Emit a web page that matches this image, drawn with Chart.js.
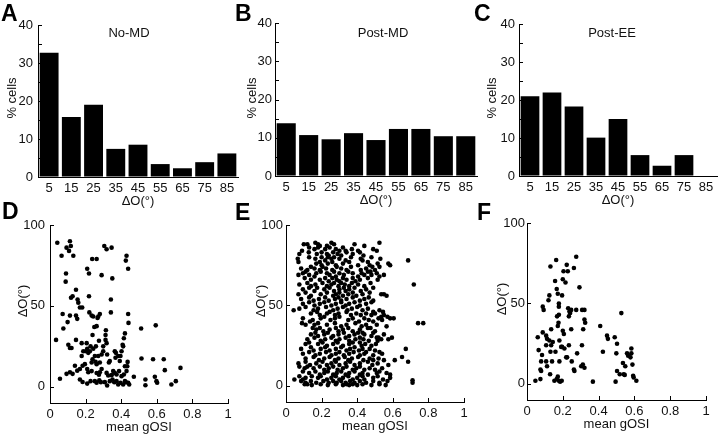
<!DOCTYPE html>
<html><head><meta charset="utf-8">
<script src="https://cdn.jsdelivr.net/npm/chart.js@4.4.1/dist/chart.umd.min.js"></script>
<style>
html,body{margin:0;padding:0;background:#fff;}
#wrap{position:relative;width:720px;height:436px;overflow:hidden;background:#fff;}
canvas{position:absolute;}
.lt{position:absolute;font:bold 23px "Liberation Sans",Arial,sans-serif;line-height:23px;color:#000;}
</style></head><body>
<div id="wrap">
<canvas id="cA" width="240" height="215" style="left:0;top:0"></canvas>
<canvas id="cB" width="240" height="215" style="left:240px;top:0"></canvas>
<canvas id="cC" width="240" height="215" style="left:480px;top:0"></canvas>
<canvas id="cD" width="240" height="231" style="left:0;top:205px"></canvas>
<canvas id="cE" width="240" height="231" style="left:240px;top:205px"></canvas>
<canvas id="cF" width="240" height="231" style="left:480px;top:205px"></canvas>
<div class="lt" style="left:1px;top:2px">A</div>
<div class="lt" style="left:235px;top:2px">B</div>
<div class="lt" style="left:474px;top:2px">C</div>
<div class="lt" style="left:2px;top:200px">D</div>
<div class="lt" style="left:235px;top:201px">E</div>
<div class="lt" style="left:477px;top:201px">F</div>
</div>
<script>
// ---------- data ----------
const binLabels = ['5','15','25','35','45','55','65','75','85'];
const histYTicks = [0,10,20,30,40];
const histYMinor = [5,15,25,35];
const noMDPct   = [32.7, 15.8, 19.0, 7.4, 8.5, 3.4, 2.3, 3.9, 6.2];
const postMDPct = [13.8, 10.7, 9.6, 11.2, 9.4, 12.3, 12.3, 10.4, 10.4];
const postEEPct = [21.0, 22.0, 18.3, 10.1, 15.0, 5.5, 2.7, 5.5, 0];

const gosiTicks = [0,0.2,0.4,0.6,0.8,1];
const gosiTickLabels = ['0','0.2','0.4','0.6','0.8','1'];
const dOTicks = [0,50,100];

const noMDPoints = [[0.041,89],[0.065,81],[0.093,86],[0.107,84],[0.112,90],[0.117,87],[0.131,81],[0.090,70],[0.088,65],[0.146,60],[0.118,55],[0.127,56],[0.155,54],[0.159,52],[0.168,49],[0.181,49],[0.071,45],[0.112,44],[0.146,44],[0.153,42],[0.099,40],[0.075,36],[0.034,29],[0.103,26],[0.112,24],[0.121,24],[0.146,29],[0.056,5],[0.093,8],[0.112,9],[0.127,8],[0.140,13],[0.153,10],[0.168,11],[0.183,13],[0.178,19],[0.187,22],[0.202,22],[0.215,21],[0.178,27],[0.206,27],[0.168,4.5],[0.183,3],[0.209,2],[0.215,9],[0.228,3.5],[0.196,14],[0.209,11],
[0.209,73],[0.219,70],[0.237,79],[0.262,79],[0.290,69],[0.305,87],[0.318,85],[0.346,86],[0.350,67],[0.342,54],[0.430,81],[0.426,78],[0.439,73],[0.219,56],[0.221,46],[0.234,44],[0.243,43.5],[0.271,43.5],[0.280,45],[0.342,46],[0.439,45],[0.249,37],[0.262,37.5],[0.267,42.5],[0.239,32],[0.314,35],[0.421,33],[0.441,39.5],[0.512,36],[0.594,38],
[0.312,32],[0.312,29],[0.318,27],[0.299,25],[0.275,28.5],[0.258,25],[0.243,23.5],[0.228,25],[0.224,22],[0.209,23.5],[0.271,19],[0.252,19],[0.290,20],[0.299,22],[0.321,20],[0.364,22],[0.370,21],[0.408,26],[0.411,25],[0.415,30],[0.402,22],[0.396,19],[0.392,16],[0.383,19],[0.368,18],[0.336,16],[0.331,15],[0.256,15.5],[0.262,14],[0.234,15],[0.239,17],[0.280,15],[0.290,11],[0.280,9],[0.275,7.5],[0.262,8.5],[0.234,9.7],[0.318,8.6],[0.327,7],[0.346,7.2],[0.355,9.7],[0.364,8.6],[0.374,7.6],[0.388,9.7],[0.402,6.6],[0.415,7.6],[0.430,9.7],[0.434,12.7],[0.421,12.7],[0.436,15.4],[0.471,6.2],[0.252,3.5],[0.262,2.5],[0.277,4.1],[0.286,2.9],[0.308,2.9],[0.321,0.8],[0.336,3.5],[0.351,4.5],[0.361,2.9],[0.374,3.5],[0.383,1.4],[0.396,2.5],[0.411,1.4],[0.426,2.9],[0.439,2.5],[0.445,1.4],[0.421,3.5],
[0.514,17.5],[0.579,17],[0.639,17],[0.645,10.3],[0.589,6.2],[0.598,3.5],[0.602,2.5],[0.536,4.5],[0.536,1],[0.682,1.4],[0.707,3.5],[0.733,11.7]];

const postMDPoints = [
[0.10,88],[0.12,88],[0.165,89],[0.18,88],[0.19,87],[0.255,89],[0.27,88],[0.385,88],[0.44,87],[0.525,89],
[0.09,84],[0.13,86],[0.16,85],[0.18,86],[0.22,85],[0.23,87],[0.245,86],[0.28,85],[0.30,84],[0.32,86],[0.335,84],[0.37,85],[0.405,84],[0.49,85],[0.51,84],
[0.075,82],[0.128,83],[0.173,82],[0.20,83],[0.23,82],[0.24,81],[0.265,83],[0.29,82],[0.31,81],[0.34,83],[0.375,82],[0.415,83],[0.435,81],
[0.066,79],[0.13,80],[0.165,79],[0.20,80],[0.22,78],[0.235,80],[0.255,79],[0.27,80],[0.30,79],[0.335,78],[0.365,80],[0.42,79],[0.43,78],[0.48,80],[0.53,79],[0.686,78],
[0.07,77],[0.17,76],[0.19,77],[0.20,75],[0.235,76],[0.26,77],[0.28,75],[0.32,76],[0.355,77],[0.405,75],[0.46,77],[0.47,75],[0.515,76],[0.525,74],[0.575,76],[0.585,75],
[0.085,73],[0.12,72],[0.14,74],[0.16,73],[0.19,72],[0.205,74],[0.225,73],[0.26,72],[0.285,74],[0.31,73],[0.34,72],[0.365,74],[0.42,72],[0.45,73],[0.475,71],[0.485,74],[0.50,72],
[0.07,69],[0.095,70],[0.11,71],[0.13,69],[0.17,70],[0.195,71],[0.23,70],[0.245,69],[0.27,71],[0.28,68],[0.30,70],[0.325,69],[0.35,71],[0.375,70],[0.405,68],[0.425,70],[0.44,69],[0.46,71],[0.48,69],[0.51,70],[0.525,68],[0.55,69],
[0.105,67],[0.14,66],[0.16,68],[0.19,66],[0.22,67],[0.24,65],[0.26,67],[0.285,66],[0.30,65],[0.32,67],[0.34,66],[0.375,67],[0.39,65],[0.415,66],[0.46,67],[0.515,66],
[0.075,63],[0.12,64],[0.14,62],[0.165,63],[0.205,64],[0.23,62],[0.255,63],[0.27,64],[0.295,62],[0.31,64],[0.33,63],[0.355,62],[0.37,64],[0.405,63],[0.44,62],[0.475,64],[0.718,63],
[0.095,60],[0.13,61],[0.16,59],[0.175,61],[0.215,60],[0.245,61],[0.27,59],[0.30,60],[0.325,61],[0.335,59],[0.355,60],[0.385,61],[0.42,59],[0.45,60],[0.49,61],
[0.07,57],[0.11,58],[0.14,56],[0.195,57],[0.23,58],[0.265,56],[0.28,57],[0.30,58],[0.32,56],[0.35,57],[0.375,58],[0.395,56],[0.43,57],[0.47,58],[0.535,57],[0.55,57],[0.565,56],
[0.085,54],[0.13,55],[0.155,53],[0.185,54],[0.22,55],[0.24,53],[0.275,54],[0.295,55],[0.31,53],[0.34,54],[0.375,55],[0.415,53],[0.44,54],[0.465,55],[0.49,53],
[0.095,51],[0.13,52],[0.16,50],[0.19,51],[0.215,52],[0.255,50],[0.28,51],[0.31,52],[0.335,50],[0.355,51],[0.385,52],[0.415,50],[0.45,51],[0.48,52],
[0.075,48],[0.11,49],[0.155,47],[0.18,48],[0.225,49],[0.265,47],[0.29,48],[0.32,49],[0.345,47],[0.37,48],[0.40,49],[0.43,47],[0.46,48],[0.49,46],[0.525,47],[0.545,46],
[0.043,47],[0.14,45],[0.175,46],[0.19,44],[0.23,45],[0.245,46],[0.275,44],[0.295,45],[0.34,46],[0.365,44],[0.395,45],[0.42,44],[0.45,45],[0.48,44],[0.50,45],[0.535,43],[0.55,44],
[0.095,42],[0.15,41],[0.195,42],[0.215,43],[0.25,41],[0.275,42],[0.30,43],[0.35,41],[0.375,42],[0.41,40],[0.44,42],[0.465,41],[0.49,40],[0.52,42],[0.54,41],[0.57,43],[0.585,42],[0.605,42],
[0.09,39],[0.11,38],[0.135,40],[0.16,38],[0.18,39],[0.23,38],[0.275,39],[0.31,37],[0.34,38],[0.39,39],[0.425,37],[0.45,38],[0.475,36],[0.51,38],[0.565,37],[0.742,39],[0.771,39],
[0.15,36],[0.17,35],[0.19,36],[0.21,34],[0.245,35],[0.28,36],[0.295,34],[0.32,35],[0.35,36],[0.375,34],[0.415,35],[0.43,33],[0.46,36],[0.50,34],
[0.14,32],[0.165,33],[0.18,31],[0.215,32],[0.235,33],[0.265,31],[0.295,32],[0.325,33],[0.355,31],[0.385,32],[0.405,33],[0.415,30],[0.44,32],[0.48,31],[0.49,33],[0.52,30],[0.55,32],
[0.12,29],[0.16,30],[0.195,28],[0.22,29],[0.255,30],[0.28,28],[0.30,29],[0.335,30],[0.355,28],[0.39,29],[0.415,27],[0.435,29],[0.465,28],[0.51,30],[0.515,28],[0.535,29],[0.575,29],[0.595,30],
[0.11,26],[0.13,27],[0.18,26],[0.205,27],[0.23,25],[0.265,26],[0.29,27],[0.32,25],[0.355,26],[0.375,27],[0.425,25],[0.445,26],[0.48,25],[0.505,26],
[0.085,23],[0.14,24],[0.155,22],[0.195,23],[0.22,24],[0.245,22],[0.28,23],[0.31,24],[0.34,22],[0.36,23],[0.385,24],[0.41,22],[0.43,23],[0.45,21],[0.47,23],[0.50,22],[0.525,21],[0.673,23],
[0.095,20],[0.13,21],[0.165,19],[0.19,20],[0.225,21],[0.255,19],[0.28,20],[0.30,21],[0.325,19],[0.355,20],[0.38,21],[0.415,19],[0.44,20],[0.49,19],[0.54,20],
[0.11,17],[0.155,18],[0.185,16],[0.215,17],[0.245,18],[0.275,16],[0.295,17],[0.33,18],[0.35,16],[0.37,17],[0.405,18],[0.435,16],[0.47,17],[0.49,16],[0.52,17],[0.55,16],[0.652,18],[0.611,16],
[0.07,14],[0.11,15],[0.135,13],[0.17,14],[0.205,15],[0.23,13],[0.255,14],[0.28,15],[0.30,13],[0.335,14],[0.36,15],[0.385,13],[0.415,14],[0.46,15],[0.485,13],[0.515,14],[0.575,13],[0.686,15],
[0.075,12],[0.105,11],[0.12,12],[0.155,11],[0.19,12],[0.215,10],[0.24,11],[0.265,12],[0.29,10],[0.32,11],[0.34,12],[0.375,10],[0.395,11],[0.415,12],[0.44,10],[0.47,11],[0.50,10],[0.54,11],
[0.095,9],[0.13,8],[0.165,9],[0.19,7],[0.215,8],[0.235,9],[0.265,7],[0.285,8],[0.31,9],[0.335,7],[0.355,8],[0.385,9],[0.415,7],[0.43,8],[0.46,7],[0.51,8],[0.525,9],[0.565,8],[0.585,7],
[0.075,6],[0.11,5],[0.145,6],[0.18,5],[0.195,6],[0.23,4],[0.255,5],[0.28,6],[0.30,4],[0.32,5],[0.35,6],[0.375,4],[0.40,5],[0.43,6],[0.44,4],[0.49,5],[0.515,6],[0.545,4],[0.585,5],
[0.047,4],[0.085,3],[0.095,4],[0.11,2],[0.14,3],[0.17,2],[0.21,3],[0.24,2],[0.265,3],[0.285,2],[0.31,3],[0.335,2],[0.36,3],[0.385,2],[0.415,3],[0.45,2],[0.49,3],[0.525,2],[0.57,3],[0.711,3.5],
[0.105,1],[0.12,1],[0.145,0.5],[0.195,1],[0.235,0.5],[0.28,1],[0.32,0.5],[0.34,1],[0.355,0.5],[0.375,1],[0.40,0.5],[0.43,1],[0.48,0.5],[0.525,1],[0.56,0.5],[0.711,2]];

const postEEPoints = [[0.047,2],[0.06,29],[0.065,21],[0.079,14],[0.084,18],[0.075,9],[0.079,8],[0.075,3],[0.088,32],[0.088,48],[0.093,46],[0.107,30],[0.107,24],[0.107,14],[0.112,11],[0.112,28],[0.120,52],[0.125,55],[0.125,27],[0.131,20],[0.129,6],[0.135,34],[0.135,24],[0.131,73],[0.144,26],[0.140,14],[0.153,2],[0.157,64],[0.163,77],[0.166,59],[0.172,56],[0.178,50],[0.178,48],[0.168,42],[0.178,43],[0.172,36],[0.176,38],[0.181,27],[0.159,20],[0.166,3],[0.178,2],[0.185,1.4],[0.194,2],[0.172,4.5],[0.181,14],[0.191,23],[0.196,23],[0.200,33],[0.196,55],[0.204,70],[0.200,65],[0.215,63],[0.222,74],[0.228,70],[0.206,31],[0.209,22],[0.219,16.5],[0.224,16.5],[0.234,24],[0.230,47],[0.237,45],[0.247,46],[0.241,44],[0.234,42],[0.247,34],[0.250,14],[0.262,9],[0.265,8],[0.262,72],[0.275,79],[0.280,19],[0.275,46],[0.293,60],[0.308,46],[0.307,24],[0.312,12],[0.303,11],[0.314,34],[0.321,46],[0.321,40],[0.325,38],[0.321,10],[0.368,1.4],[0.409,36],[0.447,30],[0.452,28],[0.424,20],[0.490,29],[0.503,25],[0.499,19],[0.495,1.4],[0.503,8],[0.518,6],[0.527,44],[0.536,13],[0.540,6],[0.549,11],[0.546,5.6],[0.559,19],[0.565,17.5],[0.578,16.5],[0.583,19],[0.589,12],[0.593,5],[0.596,4],[0.583,22],[0.611,2]];

// ---------- drawing ----------
const fontFam = '"Liberation Sans", Arial, sans-serif';
Chart.defaults.font.family = fontFam;
Chart.defaults.font.size = 13;
Chart.defaults.color = '#111';

const decor = {
  id: 'decor',
  afterDraw(chart, args, o) {
    const {ctx, chartArea: a, scales: {x, y}} = chart;
    ctx.save();
    ctx.strokeStyle = '#000'; ctx.lineWidth = 1;
    ctx.beginPath();
    (o.yMarks || []).forEach(v => { const p = Math.round(y.getPixelForValue(v)) + 0.5; ctx.moveTo(a.left, p); ctx.lineTo(a.left + 4, p); });
    (o.xMarks || []).forEach(v => { const p = Math.round(x.getPixelForValue(v)) + 0.5; ctx.moveTo(p, a.bottom); ctx.lineTo(p, a.bottom - 4); });
    ctx.stroke();
    ctx.fillStyle = '#111';
    ctx.font = '13px ' + fontFam;
    ctx.textAlign = 'center'; ctx.textBaseline = 'middle';
    if (o.title) ctx.fillText(o.title, o.titleX, o.titleY);
    ctx.fillText(o.xTitle, (a.left + a.right) / 2, a.bottom + o.xTitleDy);
    ctx.translate(o.yTitleX, o.yTitleY); ctx.rotate(-Math.PI / 2);
    ctx.fillText(o.yTitle, 0, 0);
    ctx.restore();
  }
};

const axisCommon = {
  grid: { display: true, drawOnChartArea: false, drawTicks: false },
  border: { display: true, color: '#000', width: 1 }
};

function hist(id, values, L) {
  new Chart(document.getElementById(id), {
    type: 'bar',
    data: { labels: binLabels, datasets: [{ data: values, backgroundColor: '#000', borderWidth: 0, barPercentage: 0.85, categoryPercentage: 1 }] },
    options: {
      responsive: false, animation: false, events: [],
      layout: { padding: { left: 0, top: L.top, right: L.right, bottom: L.bottom } },
      plugins: { legend: { display: false }, tooltip: { enabled: false },
        decor: { yMarks: histYTicks.concat(histYMinor), title: L.title, titleX: L.titleX, titleY: 33, xTitle: 'ΔO(°)', xTitleDy: 24, yTitle: '% cells', yTitleX: 12, yTitleY: 98 } },
      scales: {
        x: { ...axisCommon, ticks: { padding: 4, autoSkip: false, maxRotation: 0 }, afterFit: s => { s.height = 20; } },
        y: { ...axisCommon, min: 0, max: 40,
             afterBuildTicks: s => { s.ticks = histYTicks.map(v => ({ value: v })); },
             ticks: { padding: L.yPad }, afterFit: s => { s.width = L.yW; } }
      }
    },
    plugins: [decor]
  });
}

function scatter(id, pts, L) {
  new Chart(document.getElementById(id), {
    type: 'scatter',
    data: { datasets: [{ data: pts.map(p => ({ x: p[0], y: p[1] })), pointRadius: 2.3, pointHoverRadius: 2.3, pointBackgroundColor: '#000', pointBorderWidth: 0 }] },
    options: {
      responsive: false, animation: false, events: [],
      layout: { padding: { left: 0, top: L.top, right: L.right, bottom: L.bottom } },
      plugins: { legend: { display: false }, tooltip: { enabled: false },
        decor: { yMarks: dOTicks, xMarks: gosiTicks, xTitle: 'mean gOSI', xTitleDy: 24, yTitle: 'ΔO(°)', yTitleX: L.yTitleX, yTitleY: L.yTitleY } },
      scales: {
        x: { ...axisCommon, type: 'linear', min: 0, max: 1,
             afterBuildTicks: s => { s.ticks = gosiTicks.map(v => ({ value: v })); },
             ticks: { padding: 4, autoSkip: false, maxRotation: 0, callback: (v, i) => gosiTickLabels[i] },
             afterFit: s => { s.height = 20; } },
        y: { ...axisCommon, min: -10, max: 100,
             afterBuildTicks: s => { s.ticks = dOTicks.map(v => ({ value: v })); },
             ticks: { padding: L.yPad, callback: v => String(v) },
             afterFit: s => { s.width = L.yW; } }
      }
    },
    plugins: [decor]
  });
}

hist('cA', noMDPct,   { top: 25, right: 2, bottom: 18, yW: 38, yPad: 5, title: 'No-MD',   titleX: 129 });
hist('cB', postMDPct, { top: 23, right: 3, bottom: 19, yW: 35, yPad: 3, title: 'Post-MD', titleX: 143 });
hist('cC', postEEPct, { top: 24, right: 3, bottom: 19, yW: 39, yPad: 4, title: 'Post-EE', titleX: 132 });
scatter('cD', noMDPoints,   { top: 20, right: 12, bottom: 13, yW: 50, yPad: 5, yTitleX: 23, yTitleY: 96 });
scatter('cE', postMDPoints, { top: 20, right: 16, bottom: 14, yW: 46, yPad: 3, yTitleX: 21, yTitleY: 96 });
scatter('cF', postEEPoints, { top: 18, right: 14, bottom: 16, yW: 47, yPad: 2, yTitleX: 22, yTitleY: 94 });
</script>
</body></html>
